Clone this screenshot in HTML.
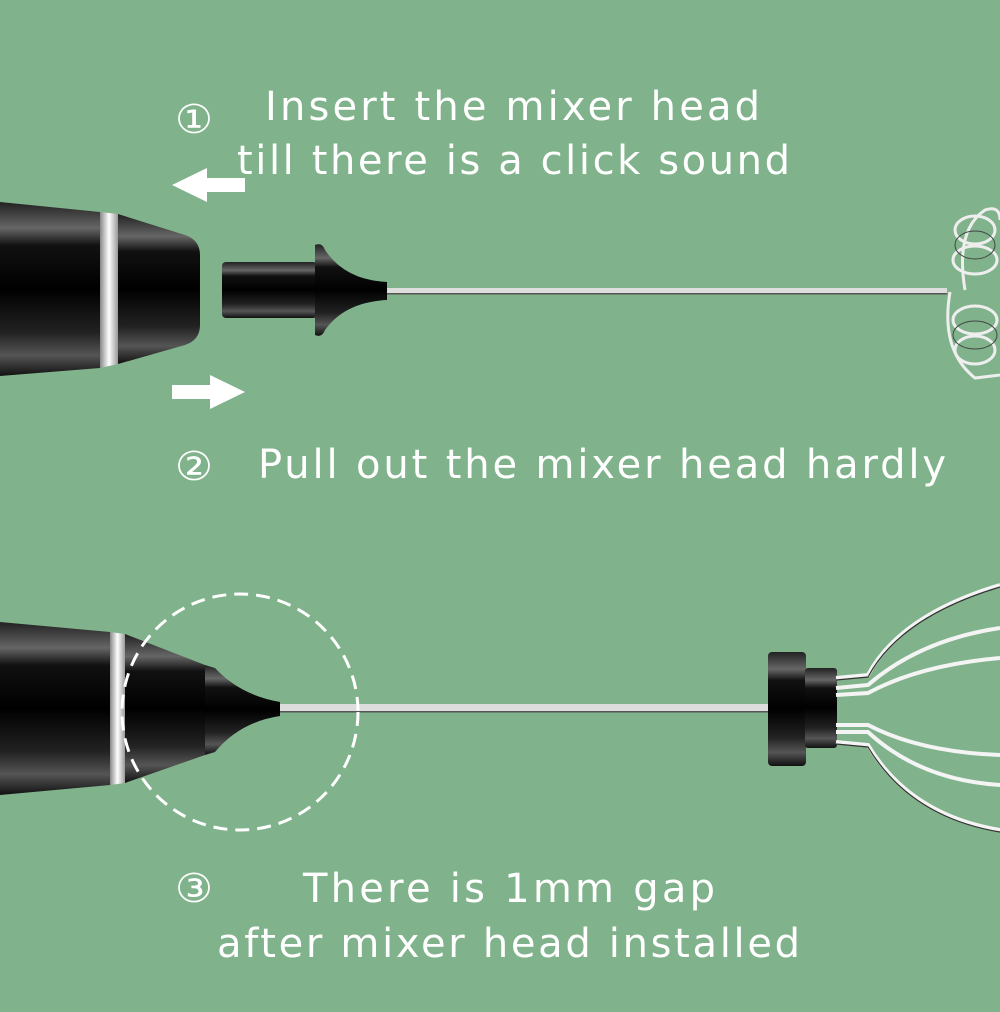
<!DOCTYPE html>
<html><head><style>
body{margin:0;width:1000px;height:1012px;background:#80b38b;overflow:hidden}
svg{display:block}
text{font-family:"DejaVu Sans","Liberation Sans",sans-serif;fill:#fff}
</style></head><body>
<svg width="1000" height="1012" viewBox="0 0 1000 1012">
<defs>
<linearGradient id="blk" x1="0" y1="0" x2="0" y2="1">
<stop offset="0" stop-color="#222"/><stop offset="0.15" stop-color="#666"/><stop offset="0.25" stop-color="#111"/><stop offset="0.5" stop-color="#000"/><stop offset="0.75" stop-color="#222"/><stop offset="0.88" stop-color="#555"/><stop offset="1" stop-color="#111"/>
</linearGradient>
<linearGradient id="band" x1="0" y1="0" x2="1" y2="0">
<stop offset="0" stop-color="#888"/><stop offset="0.5" stop-color="#fff"/><stop offset="1" stop-color="#999"/>
</linearGradient>
</defs>
<rect width="1000" height="1012" fill="#80b38b"/>
<!-- text -->
<text x="175" y="133" font-size="40" font-weight="100" textLength="38" lengthAdjust="spacingAndGlyphs">①</text>
<text x="265" y="120" font-size="40" textLength="495">Insert the mixer head</text>
<text x="237" y="174" font-size="40" textLength="553">till there is a click sound</text>
<text x="175" y="480" font-size="40" textLength="38" lengthAdjust="spacingAndGlyphs">②</text>
<text x="258" y="478" font-size="40" textLength="688">Pull out the mixer head hardly</text>
<text x="175" y="902" font-size="40" textLength="38" lengthAdjust="spacingAndGlyphs">③</text>
<text x="303" y="902" font-size="40" textLength="412">There is 1mm gap</text>
<text x="217" y="957" font-size="40" textLength="583">after mixer head installed</text>
<!-- arrows -->
<polygon points="172,185 207,168 207,178 245,178 245,192 207,192 207,202" fill="#fff"/>
<polygon points="245,392 210,375 210,385 172,385 172,399 210,399 210,409" fill="#fff"/>
<!-- top handle -->
<path d="M0,202 L100,212 L100,368 L0,376 Z" fill="url(#blk)"/>
<path d="M100,212 L118,214 L118,364 L100,368 Z" fill="url(#band)"/>
<path d="M118,214 L185,235 Q200,240 200,255 L200,325 Q200,340 185,345 L118,364 Z" fill="url(#blk)"/>
<!-- top head -->
<rect x="222" y="262" width="95" height="56" rx="4" fill="url(#blk)"/>
<path d="M315,245 Q322,242 325,250 Q345,280 387,282 L387,300 Q345,302 325,330 Q322,338 315,335 Z" fill="url(#blk)"/>
<rect x="387" y="288" width="560" height="6" fill="#ddd"/>
<rect x="387" y="293" width="560" height="1.5" fill="#555"/>
<!-- coil -->
<g fill="none" stroke="#eee" stroke-width="3">
<path d="M965,290 Q955,230 985,210 Q1000,205 1000,220"/>
<path d="M950,292 Q940,350 975,378 L1000,375"/>
<ellipse cx="975" cy="230" rx="20" ry="14"/><ellipse cx="975" cy="260" rx="22" ry="14"/>
<ellipse cx="975" cy="320" rx="22" ry="14"/><ellipse cx="975" cy="350" rx="20" ry="14"/>
</g>
<g fill="none" stroke="#444" stroke-width="1">
<ellipse cx="975" cy="245" rx="20" ry="14"/><ellipse cx="975" cy="335" rx="22" ry="14"/>
</g>
<!-- bottom handle -->
<path d="M0,622 L110,632 L110,785 L0,795 Z" fill="url(#blk)"/>
<path d="M110,632 L125,634 L125,783 L110,785 Z" fill="url(#band)"/>
<path d="M125,634 L205,665 L205,755 L125,783 Z" fill="url(#blk)"/>
<path d="M205,665 L215,668 Q240,695 280,702 L280,716 Q240,722 215,752 L205,755 Z" fill="url(#blk)"/>
<rect x="280" y="704" width="490" height="8" fill="#ddd"/>
<rect x="280" y="711" width="490" height="1.5" fill="#555"/>
<!-- dashed circle -->
<circle cx="240" cy="712" r="118" fill="none" stroke="#fff" stroke-width="3" stroke-dasharray="14,8"/>
<!-- hub -->
<rect x="768" y="652" width="38" height="114" rx="4" fill="url(#blk)"/>
<rect x="805" y="668" width="32" height="80" rx="3" fill="url(#blk)"/>
<!-- wires -->
<g fill="none" stroke="#f4f4f4" stroke-width="4">
<path d="M836,678 L868,675 Q900,615 1000,585"/>
<path d="M836,688 L868,685 Q920,640 1000,628"/>
<path d="M836,695 L868,693 Q920,665 1000,658"/>
<path d="M836,725 L868,725 Q920,752 1000,755"/>
<path d="M836,732 L868,732 Q920,780 1000,785"/>
<path d="M836,742 L868,745 Q910,815 1000,830"/>
</g>
<g fill="none" stroke="#333" stroke-width="1.2">
<path d="M836,680 L868,677 Q900,617 1000,587"/>
<path d="M836,744 L868,747 Q910,817 1000,832"/>
</g>
</svg>
</body></html>
